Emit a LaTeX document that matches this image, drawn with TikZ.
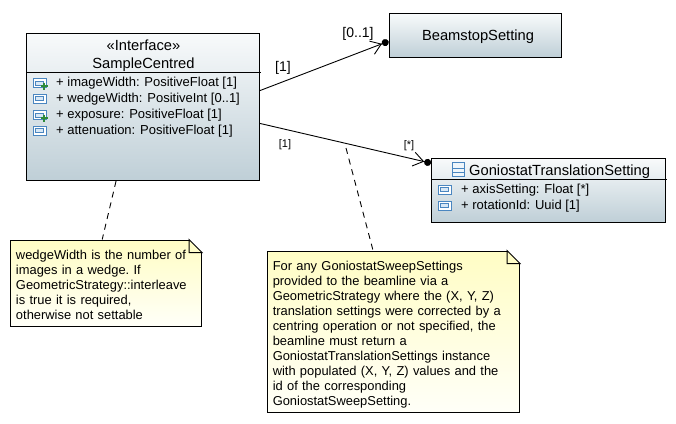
\documentclass[tikz,border=0pt]{standalone}
\usepackage{fontspec}
\setmainfont{Liberation Sans}
\usetikzlibrary{arrows.meta}
\definecolor{boxTop}{HTML}{F8FAFB}
\definecolor{boxBottom}{HTML}{BFCFD7}
\definecolor{noteTop}{HTML}{FFFDC4}
\definecolor{noteBottom}{HTML}{FFFFF8}
\definecolor{iconBlue}{HTML}{4A86C0}
\definecolor{iconFill}{HTML}{D8E8F6}
\definecolor{iconGreen}{HTML}{2E8B3A}
\tikzset{
  classBox/.style={draw,line width=1pt,top color=boxTop,bottom color=boxBottom,inner sep=0pt},
  noteBox/.style={draw,line width=1pt,top color=noteTop,bottom color=noteBottom,inner sep=0pt,
                  font=\fontsize{12.9}{15}\selectfont\frenchspacing,align=left},
  titleText/.style={inner sep=0pt,font=\fontsize{14.7}{16}\selectfont},
  attrText/.style={inner sep=0pt,anchor=west,font=\fontsize{13}{14}\selectfont},
  multText/.style={inner sep=0pt,font=\fontsize{14}{14}\selectfont},
  smallMult/.style={inner sep=0pt,font=\fontsize{11}{12}\selectfont},
  assoc/.style={line width=0.9pt,-{Straight Barb[length=10pt,width=14pt,line width=0.9pt]Circle[length=7pt]}},
  noteLink/.style={line width=0.9pt,dash pattern=on 6pt off 5pt},
  attrIcon/.pic={
    \draw[iconBlue,line width=0.9pt,fill=white] (-6.5,-4.5) rectangle (6.5,4.5);
    \draw[iconBlue,line width=0.8pt,fill=iconFill] (-4,-2) rectangle (4,2);
  },
  plusIcon/.pic={
    \draw[iconGreen,line width=2pt] (-3.5,0) -- (3.5,0) (0,-3.5) -- (0,3.5);
  },
  classIcon/.pic={
    \draw[iconBlue,line width=1pt,fill=iconFill!40] (-6,-7) rectangle (6,7);
    \draw[iconBlue,line width=0.9pt] (-6,-0.5) -- (6,-0.5) (-6,3.5) -- (6,3.5);
  }
}
\newcommand{\dogear}[1]{
  \fill[white] ([xshift=-13pt]#1.north east) -- (#1.north east) -- ([yshift=-13pt]#1.north east) -- cycle;
  \draw[line width=1pt] ([xshift=-13pt]#1.north east) -- ([yshift=-13pt]#1.north east)
    -- ([xshift=-13pt,yshift=-13pt]#1.north east) -- cycle;
}
\begin{document}
\begin{tikzpicture}[x=1pt,y=-1pt]
  \useasboundingbox (0,0) rectangle (676,423);

  % classes
  \node[classBox,minimum width=233pt,minimum height=147pt] (sample) at (143,107) {};
  \node[classBox,minimum width=172pt,minimum height=43.5pt] (beamstop) at (475,35.25) {};
  \node[classBox,minimum width=233.5pt,minimum height=63.5pt] (gonio) at (548.25,190.25) {};

  \draw[line width=1pt,shorten >=-1pt] (sample.west |- 0,72) -- (sample.east |- 0,72);
  \draw[line width=1pt,shorten >=-1pt] (gonio.west |- 0,179) -- (gonio.east |- 0,179);

  \node[titleText] (sampleStereo) at (143.5,45) {«Interface»};
  \node[titleText] (sampleName)   at (143.5,64.5) {SampleCentred};
  \node[titleText] (beamstopName) at (478,37)   {BeamstopSetting};
  \node[titleText,anchor=west] (gonioName) at (469,171.5) {GoniostatTranslationSetting};
  \pic at (458.5,169) {classIcon};

  % attributes
  \node[attrText] (attrA) at (56,83.5)  {+ imageWidth: PositiveFloat [1]};
  \node[attrText] (attrB) at (56,99.5)  {+ wedgeWidth: PositiveInt [0..1]};
  \node[attrText] (attrC) at (56,115.5) {+ exposure: PositiveFloat [1]};
  \node[attrText] (attrD) at (56,131.5) {+ attenuation: PositiveFloat [1]};
  \node[attrText] (attrE) at (461,190.5) {+ axisSetting: Float [*]};
  \node[attrText] (attrF) at (461,206.5) {+ rotationId: Uuid [1]};

  \pic at (39.5,83)  {attrIcon};
  \pic at (44,86)    {plusIcon};
  \pic at (39.5,98.5) {attrIcon};
  \pic at (39.5,115) {attrIcon};
  \pic at (44,118)   {plusIcon};
  \pic at (39.5,130.5) {attrIcon};
  \pic at (444.5,189.5) {attrIcon};
  \pic at (444.5,205.5) {attrIcon};

  % notes
  \node[noteBox,minimum width=191pt,minimum height=86pt,text width=180pt] (wedgeNote) at (106,283)
    {\rule{0pt}{13.4pt}wedgeWidth is the number of\\images in a wedge. If\\GeometricStrategy::interleave\\is true it is required,\\otherwise not settable};
  \node[noteBox,minimum width=252.5pt,minimum height=161pt,text width=241pt] (sweepNote) at (393.25,331.5)
    {\rule{0pt}{16.4pt}For any GoniostatSweepSettings\\provided to the beamline via a\\GeometricStrategy where the (X, Y, Z)\\translation settings were corrected by a\\centring operation or not specified, the\\beamline must return a\\GoniostatTranslationSettings instance\\with populated (X, Y, Z) values and the\\id of the corresponding\\GoniostatSweepSetting.};
  \dogear{wedgeNote}
  \dogear{sweepNote}

  % connectors
  \coordinate (linkStart) at (346,148);
  \draw[assoc] (sample.8.8) -- (beamstop.184.5);
  \draw[assoc] (sample.-8.8) -- (gonio.167.8);
  \draw[noteLink] (sample.-110.2) -- (wedgeNote.95.3);
  \draw[noteLink] (linkStart) -- (sweepNote.104.8);

  % multiplicities
  \node[multText] (multA) at (283,67.5)  {[1]};
  \node[multText] (multB) at (358,33.5)  {[0..1]};
  \node[smallMult] (multC) at (285,145) {[1]};
  \node[smallMult] (multD) at (409,146) {[*]};
\end{tikzpicture}
\end{document}
